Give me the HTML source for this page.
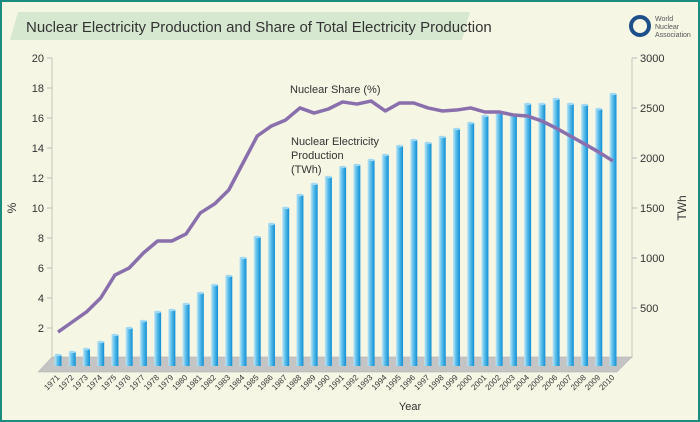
<!DOCTYPE html>
<html><head><meta charset="utf-8"><style>
body{margin:0;background:#f5f6e4}
svg{display:block;font-family:"Liberation Sans",sans-serif}
</style></head><body>
<svg id="c" width="700" height="422">
<defs>
<linearGradient id="bg" x1="0" x2="1"><stop offset="0" stop-color="#bfe6f7"/><stop offset="0.45" stop-color="#5bbde9"/><stop offset="1" stop-color="#0f8fd6"/></linearGradient>
</defs>
<rect x="1" y="1" width="698" height="420" fill="#f5f6e4" stroke="#1b8c80" stroke-width="2"/>
<polygon points="18,12 470,12 462,40 10,40" fill="#d6e8d0"/>
<text x="26" y="32" font-size="15" fill="#333">Nuclear Electricity Production and Share of Total Electricity Production</text>
<g>
<circle cx="640" cy="26" r="9" fill="none" stroke="#1d4f8a" stroke-width="4"/>
<text x="655" y="21" font-size="7" fill="#555">World</text>
<text x="655" y="29" font-size="7" fill="#555">Nuclear</text>
<text x="655" y="37" font-size="7" fill="#555">Association</text>
</g>
<line x1="52" y1="58" x2="52" y2="358" stroke="#c8c8b8"/>
<line x1="632" y1="58" x2="632" y2="358" stroke="#c8c8b8"/>
<polygon points="52,357 632,357 617,372 38,372" fill="#c4c4c4" stroke="#aaa" stroke-width="0.5"/>
<g id="ticks"></g>
<g id="bars"></g>
<g id="line"></g>
<g id="xl"></g>
<text x="16" y="208" font-size="12" fill="#333" transform="rotate(-90 16 208)" text-anchor="middle">%</text>
<text x="686" y="208" font-size="12" fill="#333" transform="rotate(-90 686 208)" text-anchor="middle">TWh</text>
<text x="410" y="410" font-size="11" fill="#333" text-anchor="middle">Year</text>
<text x="290" y="93" font-size="11" fill="#333">Nuclear Share (%)</text>
<text font-size="11" fill="#333"><tspan x="291" y="145">Nuclear Electricity</tspan><tspan x="291" y="159">Production</tspan><tspan x="291" y="173">(TWh)</tspan></text>
</svg>
<script>
const years=[];for(let y=1971;y<=2010;y++)years.push(y);
const production=[110,140,170,240,310,380,450,540,560,620,730,810,900,1080,1290,1420,1580,1710,1820,1890,1990,2010,2060,2110,2200,2260,2230,2290,2370,2430,2500,2530,2510,2620,2620,2670,2620,2610,2570,2720];
const share=[1.73,2.4,3.07,4.0,5.53,6.0,7.0,7.8,7.8,8.27,9.67,10.27,11.2,13.0,14.8,15.47,15.87,16.67,16.33,16.6,17.07,16.93,17.13,16.47,17.0,17.0,16.67,16.47,16.53,16.67,16.4,16.4,16.2,16.13,15.8,15.33,14.8,14.27,13.73,13.13];
const leftTicks=[2,4,6,8,10,12,14,16,18,20];
const rightTicks=[500,1000,1500,2000,2500,3000];
const NS="http://www.w3.org/2000/svg";
const xPos=i=>58+i*(555/39);
const yShare=v=>358-v*15;
const yRight=v=>358-v*0.1;
const yBar=v=>366-v*0.1;
function mk(t,a){const e=document.createElementNS(NS,t);for(const k in a)e.setAttribute(k,a[k]);return e;}
const tk=document.getElementById('ticks');
leftTicks.forEach(v=>{const y=yShare(v);
 const l=mk('line',{x1:47,x2:52,y1:y,y2:y,stroke:'#bbb'});
 
 tk.appendChild(l);
 const t=mk('text',{x:44,y:y+4,'font-size':11,fill:'#333','text-anchor':'end'});t.textContent=v;
 
 tk.appendChild(t);});
rightTicks.forEach(v=>{const y=yRight(v);
 const l=mk('line',{x1:632,x2:637,y1:y,y2:y,stroke:'#bbb'});
 
 tk.appendChild(l);
 const t=mk('text',{x:640,y:y+4,'font-size':11,fill:'#333'});t.textContent=v;
 
 tk.appendChild(t);});
const bg=document.getElementById('bars'),xl=document.getElementById('xl');
years.forEach((yr,i)=>{const x=xPos(i),top=yBar(production[i]);
 const r=mk('rect',{x:x-3.5,y:top,width:7,height:366-top,fill:'url(#bg)'});
 
 bg.appendChild(r);
 const cap=mk('ellipse',{cx:x,cy:top,rx:3.5,ry:1.3,fill:'#9fd8f3'});
 
 bg.appendChild(cap);
 const t=mk('text',{x:x+2,y:378,'font-size':8,fill:'#333','text-anchor':'end',transform:`rotate(-45 ${x+2} 378)`});t.textContent=yr;
 
 xl.appendChild(t);});
const pts=share.map((v,i)=>xPos(i)+','+yShare(v)).join(' ');
const pl=mk('polyline',{points:pts,fill:'none',stroke:'#8a6fad','stroke-width':3.5,'stroke-linejoin':'round'});


document.getElementById('line').appendChild(pl);
</script>
</body></html>
